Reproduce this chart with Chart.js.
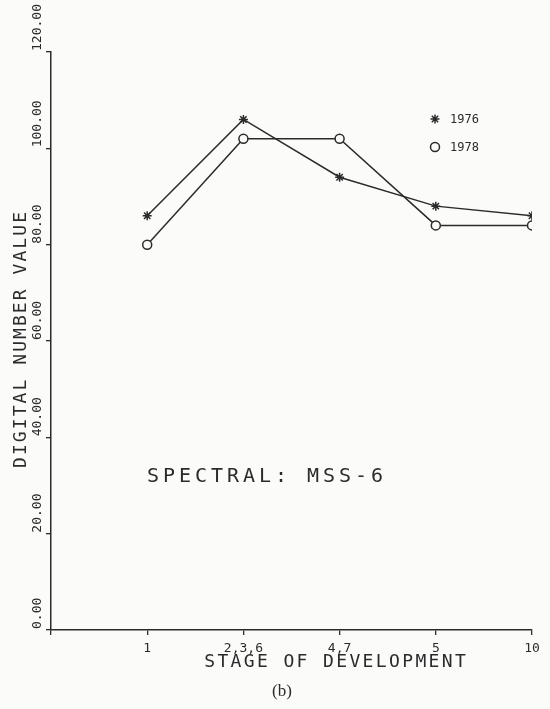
<!DOCTYPE html>
<html>
<head>
<meta charset="utf-8">
<script src="https://cdn.jsdelivr.net/npm/chart.js@4/dist/chart.umd.min.js"></script>
<style>
  body { margin: 0; background: #fbfbfa; }
  #wrap { width: 550px; height: 709px; }
</style>
</head>
<body>
<div id="wrap"><canvas id="mssChart" width="550" height="709"></canvas></div>
<script>
// stages along the x axis (one slot each)
const stages = ["1", "2,3,6", "4,7", "5", "10"];
// digital number values
const dn1976 = [86, 106, 94, 88, 86];
const dn1978 = [80, 102, 102, 84, 84];
const yTicks = [0, 20, 40, 60, 80, 100, 120];

const ink = "#2b2b2b";
const mono = "'DejaVu Sans Mono', 'Liberation Mono', monospace";

// put stage i at x = i + 1, x = 0 is the axis corner
const toPoints = (vals) => vals.map((v, i) => ({ x: i + 1, y: v }));

// draw text one char at a time with a fixed pitch (plotter look)
const spaced = (ctx, text, cx, cy, pitch) => {
  const n = text.length;
  let x = cx - (pitch * n) / 2 + pitch / 2;
  ctx.textAlign = "center";
  for (const ch of text) {
    ctx.fillText(ch, x, cy);
    x += pitch;
  }
};

const marker = (ctx, style, x, y) => {
  ctx.save();
  ctx.fillStyle = "#fbfbfa";
  ctx.strokeStyle = ink;
  ctx.lineWidth = 1.5;
  Chart.helpers.drawPoint(ctx, { pointStyle: style, radius: 4.5, borderWidth: 1.5, rotation: 0 }, x, y);
  ctx.restore();
};

// texts the library can't place for us: rotated y labels, titles, legend
const plotterText = {
  id: "plotterText",
  afterDraw(chart) {
    const { ctx, scales } = chart;
    const y = scales.y;
    ctx.save();
    ctx.fillStyle = ink;

    // y tick labels, rotated, starting at the tick and reading upward
    ctx.font = "13px " + mono;
    ctx.textBaseline = "middle";
    yTicks.forEach((t) => {
      const py = y.getPixelForValue(t);
      ctx.save();
      ctx.translate(38, py - 1);
      ctx.rotate(-Math.PI / 2);
      ctx.textAlign = "left";
      ctx.fillText(t.toFixed(2), 0, 0);
      ctx.restore();
    });

    // y title
    ctx.save();
    ctx.translate(21, 340);
    ctx.rotate(-Math.PI / 2);
    ctx.font = "18px " + mono;
    spaced(ctx, "DIGITAL NUMBER VALUE", 0, 0, 12.9);
    ctx.restore();

    // x title
    ctx.font = "18px " + mono;
    spaced(ctx, "STAGE OF DEVELOPMENT", 335, 662, 13.2);

    // annotation
    ctx.font = "20px " + mono;
    spaced(ctx, "SPECTRAL: MSS-6", 145 + 7.5 * 16, 477, 16);

    // legend
    ctx.font = "12px " + mono;
    ctx.textAlign = "left";
    marker(ctx, "star", 435, 119);
    ctx.fillText("1976", 450, 120);
    marker(ctx, "circle", 435, 147);
    ctx.fillText("1978", 450, 148);

    // panel caption
    ctx.font = "17px 'Liberation Serif', 'DejaVu Serif', serif";
    ctx.textAlign = "center";
    ctx.fillText("(b)", 282, 692);
    ctx.restore();
  },
};

const mssChart = new Chart(document.getElementById("mssChart"), {
  type: "line",
  data: {
    datasets: [
      {
        label: "1976",
        data: toPoints(dn1976),
        borderColor: ink,
        borderWidth: 1.5,
        pointStyle: "star",
        pointRadius: 4.5,
        pointBorderWidth: 1.5,
        pointBorderColor: ink,
        pointBackgroundColor: ink,
        tension: 0,
      },
      {
        label: "1978",
        data: toPoints(dn1978),
        borderColor: ink,
        borderWidth: 1.5,
        pointStyle: "circle",
        pointRadius: 4.5,
        pointBorderWidth: 1.5,
        pointBorderColor: ink,
        pointBackgroundColor: "#fbfbfa",
        tension: 0,
      },
    ],
  },
  options: {
    responsive: false,
    animation: false,
    layout: { padding: { left: 0, top: 52, right: 18, bottom: 0 } },
    plugins: { legend: { display: false }, tooltip: { enabled: false } },
    scales: {
      x: {
        type: "linear",
        min: 0,
        max: stages.length,
        afterFit: (s) => { s.height = 79; },
        grid: { drawOnChartArea: false, drawTicks: true, tickLength: 5, color: ink, lineWidth: 1.3 },
        border: { display: true, color: ink, width: 1.5 },
        ticks: {
          stepSize: 1,
          autoSkip: false,
          maxRotation: 0,
          padding: 6,
          color: ink,
          font: { family: mono, size: 13 },
          callback: (v) => stages[v - 1] || "",
        },
      },
      y: {
        min: 0,
        max: 120,
        afterFit: (s) => { s.width = 51; },
        grid: { drawOnChartArea: false, drawTicks: true, tickLength: 5, color: ink, lineWidth: 1.3 },
        border: { display: true, color: ink, width: 1.5 },
        ticks: { stepSize: 20, display: false },
      },
    },
  },
  plugins: [plotterText],
});
</script>
</body>
</html>
